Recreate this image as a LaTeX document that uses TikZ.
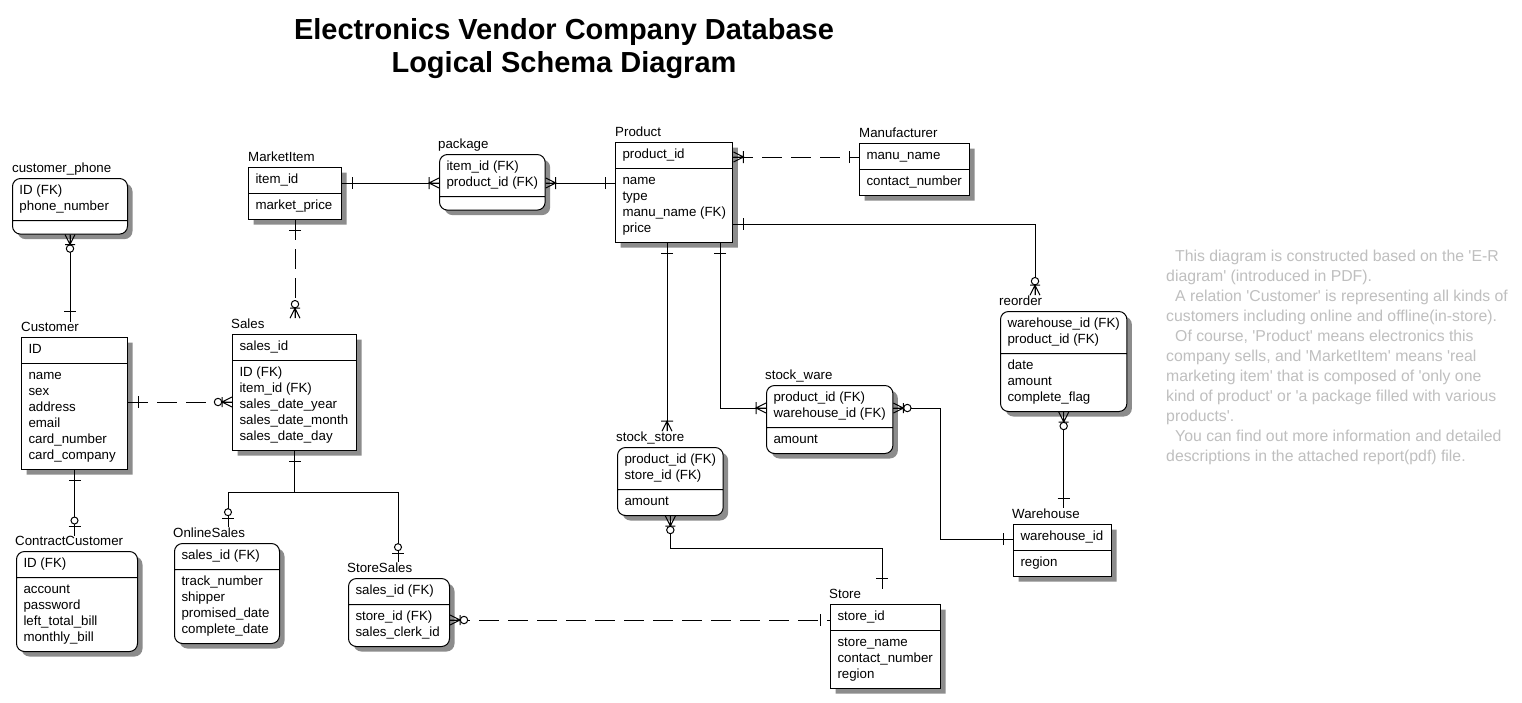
\documentclass[tikz,border=0pt]{standalone}
\usepackage{fontspec}
\setmainfont{Liberation Sans}
\usetikzlibrary{shapes.multipart,shadows}
\tikzstyle{ent}=[draw, line width=1pt, fill=white, rectangle split, rectangle split parts=2,
    rectangle split part align=left, anchor=north west, inner xsep=7pt, inner ysep=4.5pt,
    font=\fontsize{13.3}{16}\selectfont,
    drop shadow={shadow xshift=5pt, shadow yshift=-5pt, opacity=1, fill=black!45}]
\tikzstyle{dep}=[ent, rounded corners=8pt]
\tikzstyle{lbl}=[inner sep=0pt, anchor=base west, font=\fontsize{13.3}{16}\selectfont]
\tikzstyle{rel}=[line width=1pt]
\tikzstyle{nonid}=[rel, dash pattern=on 20pt off 9pt]
\tikzstyle{ttl}=[anchor=base, font=\fontsize{29}{32}\selectfont\bfseries]
\def\rows#1{\begin{tabular}{@{}l@{}}#1\end{tabular}}
\def\q{\textquotesingle}
% crow's foot ends, x points away from the entity
\tikzset{
  one/.pic={\draw[rel] (10,-6) -- (10,6);},
  zeroone/.pic={\draw[rel] (9,-6) -- (9,6); \draw[rel, fill=white] (15,0) circle (3.5);},
  onemany/.pic={\draw[rel] (0,-5) -- (10,0) -- (0,5) (0,0) -- (10,0) (10,-6) -- (10,6);},
  zeromany/.pic={\draw[rel] (0,-5) -- (10,0) -- (0,5) (0,0) -- (10,0) (10,-5) -- (10,5);
    \draw[rel, fill=white] (14,0) circle (3.7);}
}

\begin{document}
\begin{tikzpicture}[x=1pt, y=-1pt]
    \path[fill=white, use as bounding box] (0,0) rectangle (1522,702);
    \node (title) [ttl] at (564,39.5) {Electronics Vendor Company Database};
    \node (subtitle) [ttl] at (564,72.5) {Logical Schema Diagram};

    % entities
    \node (customerphone-l) [lbl] at (12,172) {customer\_phone};
    \node (customerphone) [dep, minimum width=115pt] at (12,178)
        {\rows{ID (FK)\\phone\_number}\nodepart{two}\rows{}};
    \node (marketitem-l) [lbl] at (248,161) {MarketItem};
    \node (marketitem) [ent, minimum width=93pt] at (248,167)
        {\rows{item\_id}\nodepart{two}\rows{market\_price}};
    \node (package-l) [lbl] at (438,148) {package};
    \node (package) [dep, minimum width=105pt] at (439,154)
        {\rows{item\_id (FK)\\product\_id (FK)}\nodepart{two}\rows{}};
    \node (product-l) [lbl] at (615,136) {Product};
    \node (product) [ent, minimum width=116pt] at (615,142)
        {\rows{product\_id}\nodepart{two}\rows{name\\type\\manu\_name (FK)\\price}};
    \node (manufacturer-l) [lbl] at (859,137) {Manufacturer};
    \node (manufacturer) [ent, minimum width=110pt] at (859,143)
        {\rows{manu\_name}\nodepart{two}\rows{contact\_number}};
    \node (customer-l) [lbl] at (21,331) {Customer};
    \node (customer) [ent, minimum width=106pt] at (21,337)
        {\rows{ID}\nodepart{two}\rows{name\\sex\\address\\email\\card\_number\\card\_company}};
    \node (sales-l) [lbl] at (231,328) {Sales};
    \node (sales) [ent, minimum width=124pt] at (232,334)
        {\rows{sales\_id}\nodepart{two}\rows{ID (FK)\\item\_id (FK)\\sales\_date\_year\\sales\_date\_month\\sales\_date\_day}};
    \node (contract-l) [lbl] at (15,545) {ContractCustomer};
    \node (contract) [dep, minimum width=121pt] at (16,551)
        {\rows{ID (FK)}\nodepart{two}\rows{account\\password\\left\_total\_bill\\monthly\_bill}};
    \node (online-l) [lbl] at (173,537) {OnlineSales};
    \node (online) [dep, minimum width=105pt] at (174,543)
        {\rows{sales\_id (FK)}\nodepart{two}\rows{track\_number\\shipper\\promised\_date\\complete\_date}};
    \node (storesales-l) [lbl] at (347,572) {StoreSales};
    \node (storesales) [dep, minimum width=101pt] at (348,578)
        {\rows{sales\_id (FK)}\nodepart{two}\rows{store\_id (FK)\\sales\_clerk\_id}};
    \node (stockstore-l) [lbl] at (616,441) {stock\_store};
    \node (stockstore) [dep, minimum width=104pt] at (617,447)
        {\rows{product\_id (FK)\\store\_id (FK)}\nodepart{two}\rows{amount}};
    \node (stockware-l) [lbl] at (765,379) {stock\_ware};
    \node (stockware) [dep, minimum width=124pt] at (766,385)
        {\rows{product\_id (FK)\\warehouse\_id (FK)}\nodepart{two}\rows{amount}};
    \node (reorder-l) [lbl] at (999,305) {reorder};
    \node (reorder) [dep, minimum width=126pt] at (1000,311)
        {\rows{warehouse\_id (FK)\\product\_id (FK)}\nodepart{two}\rows{date\\amount\\complete\_flag}};
    \node (warehouse-l) [lbl] at (1012,518) {Warehouse};
    \node (warehouse) [ent, minimum width=98pt] at (1013,524)
        {\rows{warehouse\_id}\nodepart{two}\rows{region}};
    \node (store-l) [lbl] at (829,598) {Store};
    \node (store) [ent, minimum width=110pt] at (830,604)
        {\rows{store\_id}\nodepart{two}\rows{store\_name\\contact\_number\\region}};

    \node (note) [anchor=north west, inner sep=0pt, align=left, text=black!25,
        font=\fontsize{15.8}{20}\selectfont] at (1166,250)
        {\hspace*{9pt}This diagram is constructed based on the \q E-R\\
         diagram\q{} (introduced in PDF).\\
         \hspace*{9pt}A relation \q Customer\q{} is representing all kinds of\\
         customers including online and offline(in-store).\\
         \hspace*{9pt}Of course, \q Product\q{} means electronics this\\
         company sells, and \q MarketItem\q{} means \q real\\
         marketing item\q{} that is composed of \q only one\\
         kind of product\q{} or \q a package filled with various\\
         products\q.\\
         \hspace*{9pt}You can find out more information and detailed\\
         descriptions in the attached report(pdf) file.};

    % relationships
    \draw[rel] (customerphone.south) -- (customerphone.south |- customer-l.north);
    \path (customerphone.south) pic[rotate=-90] {zeromany}
        (customerphone.south |- customer-l.north) pic[rotate=90] {one};
    \draw[nonid] (marketitem.south) -- (marketitem.south |- sales-l.north);
    \path (marketitem.south) pic[rotate=-90] {one}
        (marketitem.south |- sales-l.north) pic[rotate=90] {zeromany};
    \draw[rel] (marketitem.east |- 0,183) -- (package.west |- 0,183);
    \path (marketitem.east |- 0,183) pic {one}
        (package.west |- 0,183) pic[rotate=180] {onemany};
    \draw[rel] (package.east |- 0,183) -- (product.west |- 0,183);
    \path (package.east |- 0,183) pic {onemany}
        (product.west |- 0,183) pic[rotate=180] {one};
    \draw[nonid] (product.east |- 0,157) -- (manufacturer.west |- 0,157);
    \path (product.east |- 0,157) pic {onemany}
        (manufacturer.west |- 0,157) pic[rotate=180] {one};
    \draw[rel] (product.east |- 0,224) -| (1035,0 |- reorder-l.north);
    \path (product.east |- 0,224) pic {one}
        (1035,0 |- reorder-l.north) pic[rotate=90] {zeromany};
    \draw[rel] (667,0 |- product.south) -- (667,0 |- stockstore-l.north);
    \path (667,0 |- product.south) pic[rotate=-90] {one}
        (667,0 |- stockstore-l.north) pic[rotate=90] {onemany};
    \draw[rel] (720,0 |- product.south) |- (stockware.west |- 0,408);
    \path (720,0 |- product.south) pic[rotate=-90] {one}
        (stockware.west |- 0,408) pic[rotate=180] {onemany};
    \draw[rel] (stockware.east |- 0,408) -| (940,539) -- (warehouse.west |- 0,539);
    \path (stockware.east |- 0,408) pic {zeromany}
        (warehouse.west |- 0,539) pic[rotate=180] {one};
    \draw[rel] (reorder.south) -- (reorder.south |- warehouse-l.north);
    \path (reorder.south) pic[rotate=-90] {zeromany}
        (reorder.south |- warehouse-l.north) pic[rotate=90] {one};
    \draw[rel] (stockstore.south) |- (882,548) -- (882,0 |- store-l.north);
    \path (stockstore.south) pic[rotate=-90] {zeromany}
        (882,0 |- store-l.north) pic[rotate=90] {one};
    \draw[nonid] (storesales.east |- 0,620) -- (store.west |- 0,620);
    \path (storesales.east |- 0,620) pic {zeromany}
        (store.west |- 0,620) pic[rotate=180] {one};
    \draw[nonid] (customer.east |- 0,402) -- (sales.west |- 0,402);
    \path (customer.east |- 0,402) pic {one}
        (sales.west |- 0,402) pic[rotate=180] {zeromany};
    \draw[rel] (customer.south) -- (customer.south |- contract-l.north);
    \path (customer.south) pic[rotate=-90] {one}
        (customer.south |- contract-l.north) pic[rotate=90] {zeroone};
    \draw[rel] (sales.south) -- (sales.south |- 0,492);
    \draw[rel] (228,0 |- online-l.north) |- (398,492) -- (398,0 |- storesales-l.north);
    \path (sales.south) pic[rotate=-90] {one}
        (228,0 |- online-l.north) pic[rotate=90] {zeroone}
        (398,0 |- storesales-l.north) pic[rotate=90] {zeroone};
\end{tikzpicture}
\end{document}
